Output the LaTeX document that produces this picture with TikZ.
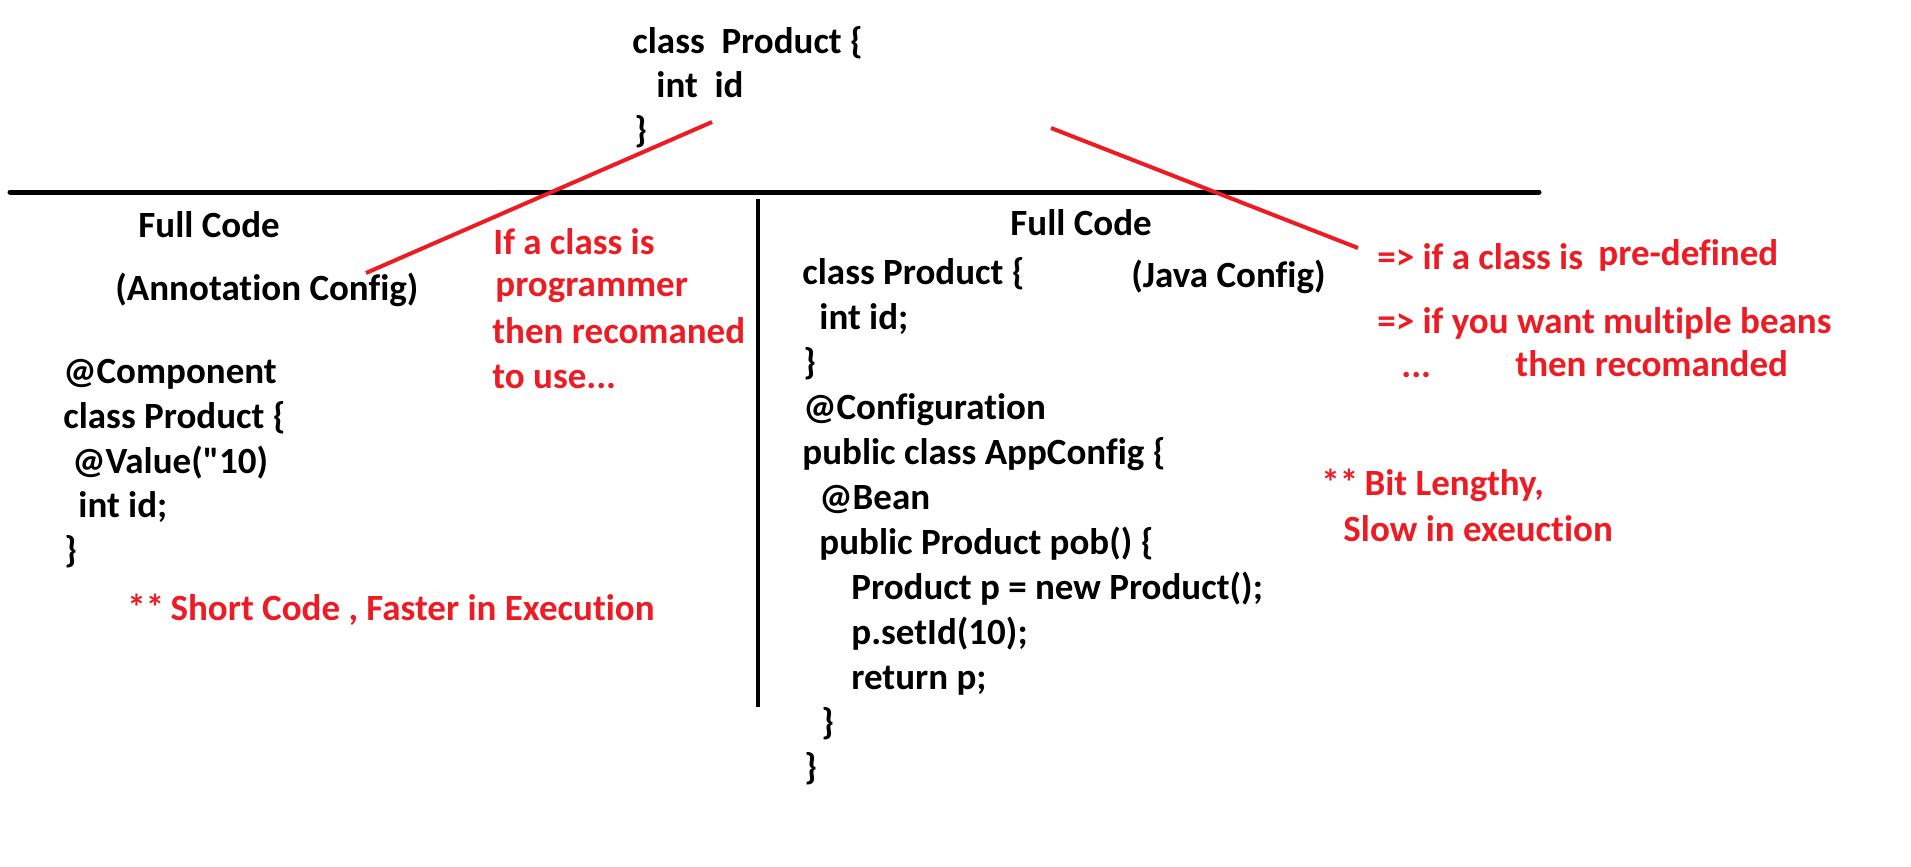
\documentclass[tikz,border=0pt]{standalone}
\usepackage{fontspec}
\setmainfont{Carlito}[Ligatures={NoCommon,TeXOff}]
\definecolor{pred}{HTML}{ED1C24}
\begin{document}
\begin{tikzpicture}[x=0.5pt,y=-0.5pt,
  txt/.style={anchor=base west,inner sep=0pt,font=\fontsize{18.5}{22}\selectfont\bfseries},
  rtxt/.style={txt,text=pred},
  rline/.style={draw=pred,line width=2pt},
  bline/.style={draw=black,line width=2.5pt,line cap=round}]
\useasboundingbox[fill=white] (0,0) rectangle (1911,867);
% top class
\node[txt] (t1) at (632,53) {class\ \ Product \{};
\node[txt] (t2) at (656,97) {int\ \ id};
\node[txt] (t3) at (634,142) {\}};
% dividers
\coordinate (hl) at (10,192);
\coordinate (hr) at (1539,192);
\draw[bline] (hl) -- (hr);
\coordinate (vt) at (758,199);
\coordinate (vb) at (758,707);
\draw[bline,line width=2.2pt,line cap=butt] (vt) -- (vb);
% red lines
\coordinate (r1a) at (366,273);
\coordinate (r1b) at (712,122);
\draw[rline] (r1a) -- (r1b);
\coordinate (r2a) at (1051,128);
\coordinate (r2b) at (1358,248);
\draw[rline] (r2a) -- (r2b);
% left column
\node[txt] (lfc) at (138,237) {Full Code};
\node[txt] (lac) at (115,300) {(Annotation Config)};
\node[txt] (l1) at (63,383) {@Component};
\node[txt] (l2) at (63,428) {class Product \{};
\node[txt] (l3) at (72,473) {@Value("10)};
\node[txt] (l4) at (78,517) {int id;};
\node[txt] (l5) at (64,562) {\}};
\node[rtxt] (ls) at (127,620) {**\kern-1pt\ Short Code , Faster in Execution};
% middle red note
\node[rtxt] (m1) at (493,254) {If a class is};
\node[rtxt] (m2) at (495,296) {programmer};
\node[rtxt] (m3) at (492,343) {then recomaned};
\node[rtxt] (m4) at (492,388) {to use...};
% right column
\node[txt] (rfc) at (1010,235) {Full Code};
\node[txt] (rjc) at (1131,287) {(Java Config)};
\node[txt] (c1) at (802,284) {class Product \{};
\node[txt] (c2) at (819,329) {int id;};
\node[txt] (c3) at (803,374) {\}};
\node[txt] (c4) at (803,419) {@Configuration};
\node[txt] (c5) at (802,464) {public class AppConfig \{};
\node[txt] (c6) at (819,509) {@Bean};
\node[txt] (c7) at (819,554) {public Product pob() \{};
\node[txt] (c8) at (851,599) {Product p = new Product();};
\node[txt] (c9) at (851,644) {p.setId(10);};
\node[txt] (c10) at (851,689) {return p;};
\node[txt] (c11) at (821,734) {\}};
\node[txt] (c12) at (804,779) {\}};
% far right red notes
\node[rtxt] (n1) at (1377,269) {=> if a class is};
\node[rtxt] (n2) at (1598,265) {pre-defined};
\node[rtxt] (n3) at (1377,333) {=> if you want multiple beans};
\node[rtxt] (n4) at (1401,377) {...};
\node[rtxt] (n5) at (1515,376) {then recomanded};
\node[rtxt] (n6) at (1321,495) {**\kern-1pt\ Bit Lengthy,};
\node[rtxt] (n7) at (1343,541) {Slow in exeuction};
\end{tikzpicture}
\end{document}
